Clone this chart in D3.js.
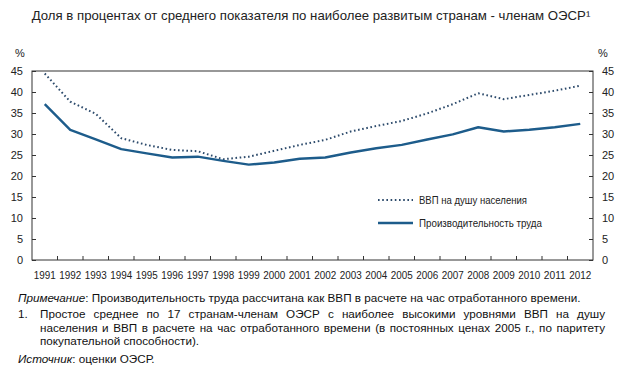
<!DOCTYPE html>
<html>
<head>
<meta charset="utf-8">
<script src="https://cdn.jsdelivr.net/npm/d3@7"></script>
<style>
body { margin: 0; background: #fff; }
svg { font-family: "Liberation Sans", Arial, sans-serif; }
</style>
</head>
<body>
<svg id="chart" width="623" height="375"></svg>
<script>
// data
let years = ['1991','1992','1993','1994','1995','1996','1997','1998','1999','2000','2001',
             '2002','2003','2004','2005','2006','2007','2008','2009','2010','2011','2012'],
    gdpPerCapita = [44.4, 37.7, 34.8, 29.0, 27.4, 26.2, 25.9, 24.0, 24.6, 26.0, 27.4,
                    28.6, 30.6, 31.9, 33.1, 34.9, 37.1, 39.7, 38.3, 39.3, 40.3, 41.5],
    productivity = [37.1, 31.0, 28.7, 26.4, 25.4, 24.4, 24.6, 23.6, 22.7, 23.2, 24.1,
                    24.4, 25.6, 26.6, 27.4, 28.7, 29.9, 31.6, 30.6, 31.0, 31.6, 32.4],
    yTicks = [0, 5, 10, 15, 20, 25, 30, 35, 40, 45],
    seriesNames = ['ВВП на душу населения', 'Производительность труда'];

let svg = d3.select('#chart'),
    plotL = 32, plotR = 593, plotT = 71, plotB = 260,
    lineBlue = '#1d5c8b',
    dotColor = '#2c4a6b';

let x = d3.scaleBand().domain(years).range([plotL, plotR]),
    y = d3.scaleLinear().domain([0, 45]).range([plotB, plotT]);

// title
svg.append('text')
    .attr('x', 311).attr('y', 20)
    .attr('text-anchor', 'middle')
    .style('font-size', '13.2px')
    .style('fill', '#222')
    .text('Доля в процентах от среднего показателя по наиболее развитым странам - членам ОЭСР¹');

// frame
svg.append('rect')
    .attr('x', plotL).attr('y', plotT)
    .attr('width', plotR - plotL).attr('height', plotB - plotT)
    .attr('fill', 'none').attr('stroke', '#333').attr('stroke-width', 1);

// y axes (ticks inside)
let yLeft = svg.append('g').attr('transform', 'translate(' + plotL + ',0)')
    .call(d3.axisLeft(y).tickValues(yTicks).tickSize(-4).tickPadding(9));
let yRight = svg.append('g').attr('transform', 'translate(' + plotR + ',0)')
    .call(d3.axisRight(y).tickValues(yTicks).tickSize(-4).tickPadding(9));

// x axis: labels in band centers, ticks on band edges
let xAxis = svg.append('g').attr('transform', 'translate(0,' + plotB + ')')
    .call(d3.axisBottom(x).tickSize(0).tickPadding(9));
xAxis.selectAll('.edge')
    .data(years.slice(1))
    .enter()
    .append('line')
    .attr('class', 'edge')
    .attr('x1', function(d) { return x(d); })
    .attr('x2', function(d) { return x(d); })
    .attr('y1', 0).attr('y2', -4)
    .attr('stroke', '#333');

[yLeft, yRight, xAxis].forEach(function(g) {
    g.select('.domain').remove();
    g.selectAll('.tick line').attr('stroke', '#333');
    g.selectAll('text').style('font-size', '11px').style('fill', '#222')
        .style('font-family', '"Liberation Sans", Arial, sans-serif');
});
xAxis.selectAll('.tick text').attr('dy', '0.9em')
    .attr('textLength', 22).attr('lengthAdjust', 'spacingAndGlyphs');

svg.append('text').attr('x', 20).attr('y', 57).attr('text-anchor', 'middle')
    .style('font-size', '11px').style('fill', '#222').text('%');
svg.append('text').attr('x', 603).attr('y', 57).attr('text-anchor', 'middle')
    .style('font-size', '11px').style('fill', '#222').text('%');

// lines
let line = d3.line()
    .x(function(d, i) { return x(years[i]) + x.bandwidth() / 2; })
    .y(function(d) { return y(d); });

svg.append('path')
    .attr('d', line(gdpPerCapita))
    .attr('fill', 'none')
    .attr('stroke', dotColor)
    .attr('stroke-width', 2)
    .attr('stroke-dasharray', '1.6,2.6');

svg.append('path')
    .attr('d', line(productivity))
    .attr('fill', 'none')
    .attr('stroke', lineBlue)
    .attr('stroke-width', 2.4)
    .attr('stroke-linejoin', 'round');

// legend
let legendWidths = [108, 123];
let legend = svg.append('g');
legend.append('line')
    .attr('x1', 378).attr('x2', 413).attr('y1', 200).attr('y2', 200)
    .attr('stroke', dotColor).attr('stroke-width', 2).attr('stroke-dasharray', '1.6,2.6');
legend.append('line')
    .attr('x1', 378).attr('x2', 413).attr('y1', 223).attr('y2', 223)
    .attr('stroke', lineBlue).attr('stroke-width', 2.4);
legend.selectAll('text')
    .data(seriesNames)
    .enter()
    .append('text')
    .attr('x', 419)
    .attr('y', function(d, i) { return 204 + i * 23; })
    .attr('textLength', function(d, i) { return legendWidths[i]; })
    .attr('lengthAdjust', 'spacingAndGlyphs')
    .style('font-size', '11px')
    .style('fill', '#222')
    .text(function(d) { return d; });

// notes
let noteSize = '11.7px';
let note = svg.append('text').attr('x', 18).attr('y', 302)
    .style('font-size', noteSize).style('fill', '#111');
note.append('tspan').style('font-style', 'italic').text('Примечание');
note.append('tspan').text(': Производительность труда рассчитана как ВВП в расчете на час отработанного времени.');

svg.append('text').attr('x', 18).attr('y', 318)
    .style('font-size', noteSize).style('fill', '#111').text('1.');

let footLines = [
    'Простое среднее по 17 странам-членам ОЭСР с наиболее высокими уровнями ВВП на душу',
    'населения и ВВП в расчете на час отработанного времени (в постоянных ценах 2005 г., по паритету',
    'покупательной способности).'
];
footLines.forEach(function(t, i) {
    let yy = 318 + i * 13.5;
    if (i == 2) {
        svg.append('text').attr('x', 40).attr('y', yy)
            .style('font-size', noteSize).style('fill', '#111').text(t);
        return;
    }
    // justified: one text per word, gaps spread evenly
    let words = t.split(' '),
        els = words.map(function(w) {
            return svg.append('text').attr('y', yy)
                .style('font-size', noteSize).style('fill', '#111').text(w);
        }),
        widths = els.map(function(e) { return e.node().getComputedTextLength(); }),
        gap = (605 - 40 - d3.sum(widths)) / (words.length - 1),
        cx = 40;
    els.forEach(function(e, j) {
        e.attr('x', cx);
        cx += widths[j] + gap;
    });
});

let src = svg.append('text').attr('x', 18).attr('y', 363)
    .style('font-size', noteSize).style('fill', '#111');
src.append('tspan').style('font-style', 'italic').text('Источник');
src.append('tspan').text(': оценки ОЭСР.');
</script>
</body>
</html>
